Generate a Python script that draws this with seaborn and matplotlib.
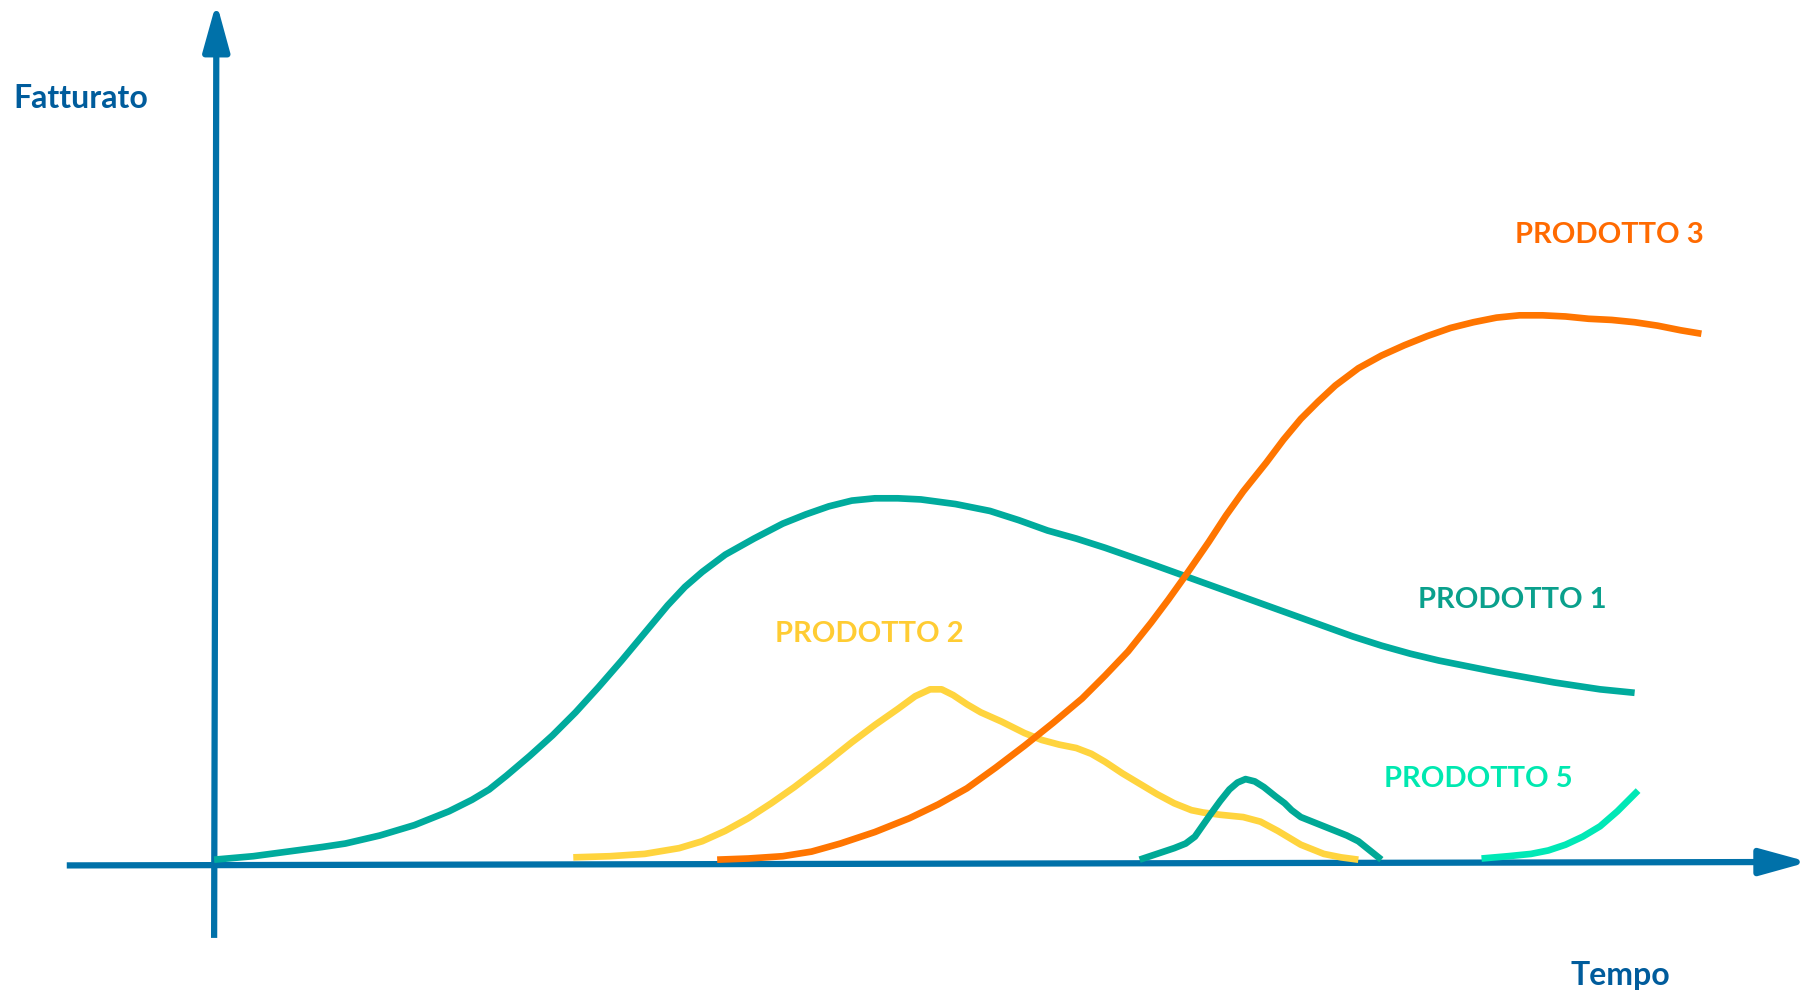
import matplotlib
matplotlib.use("Agg")
import matplotlib.pyplot as plt
import seaborn as sns
import pandas as pd

# ---- data (tempo, fatturato) ----
p1_x = [0, 34, 64, 94, 114, 144, 174, 204, 224, 239, 254, 274, 294, 314, 334, 354, 374, 394, 409, 424,
        444, 469, 494, 514, 534, 554, 574, 594, 614, 644, 674, 699, 724, 749, 774, 814, 864, 914, 964,
        989, 1014, 1039, 1064, 1114, 1164, 1204, 1234]
p1_y = [3, 6, 10, 14, 17, 24, 33, 45, 55, 64, 76, 93, 111, 131, 153, 176, 200, 224, 240, 253,
        268, 282, 295, 303, 310, 315, 317, 317, 316, 312, 306, 298, 289, 282, 274, 260, 242, 224, 206,
        197, 189, 182, 176, 166, 157, 151, 148]

p2_x = [312, 344, 374, 404, 424, 444, 464, 484, 504, 529, 554, 574, 594, 609, 622, 632, 642, 654, 666, 684,
        704, 719, 734, 749, 762, 774, 789, 804, 819, 834, 849, 859, 874, 894, 909, 924, 944, 964, 979, 994]
p2_y = [5, 6, 8, 13, 19, 28, 39, 52, 66, 85, 105, 120, 134, 145, 151, 151, 146, 138, 131, 123,
        113, 107, 103, 100, 95, 88, 78, 69, 60, 52, 46, 44, 42, 40, 36, 28, 16, 8, 5, 3]

p3_x = [437, 464, 494, 519, 544, 574, 604, 629, 654, 679, 704, 729, 754, 774, 794, 814, 829, 844, 864, 879,
        894, 914, 929, 944, 959, 974, 994, 1014, 1034, 1054, 1074, 1094, 1114, 1134, 1154, 1174, 1194,
        1214, 1234, 1254, 1274, 1292]
p3_y = [3, 4, 6, 10, 17, 27, 39, 51, 65, 83, 102, 122, 143, 163, 184, 209, 229, 250, 279, 302,
        323, 348, 368, 386, 401, 415, 430, 441, 450, 458, 465, 470, 474, 476, 476, 475, 473,
        472, 470, 467, 463, 460]

p4_x = [804, 819, 834, 844, 852, 859, 866, 874, 882, 889, 896, 904, 912, 922, 930, 936, 944, 954, 969, 984, 994, 1004, 1014]
p4_y = [3, 8, 13, 17, 23, 33, 43, 54, 64, 70, 73, 71, 66, 58, 52, 46, 40, 36, 30, 24, 19, 11, 3]

p5_x = [1101, 1124, 1144, 1159, 1174, 1189, 1204, 1219, 1237]
p5_y = [4, 6, 8, 11, 16, 23, 32, 45, 63]

labels = ["PRODOTTO 1", "PRODOTTO 2", "PRODOTTO 3", "PRODOTTO 5"]
label_x = [1128, 569, 1212, 1098]
label_y = [229, 199, 546, 73]
label_colors = ["#0AA08C", "#FFCC33", "#FF6A00", "#00E8B0"]

y_title = "Fatturato"
x_title = "Tempo"

# ---- figure ----
sns.set_theme(style="white")
plt.rcParams["font.family"] = ["Lato", "DejaVu Sans"]

fig = plt.figure(figsize=(18.05, 9.92), dpi=100)
ax = fig.add_axes([0, 0, 1, 1])
ax.set_xlim(-186, 1382)
ax.set_ylim(-112, 750)
ax.axis("off")

axis_blue = "#0071A9"
text_blue = "#005C9C"

arrow_kw = dict(arrowstyle="-|>,head_length=2.9,head_width=0.8",
                lw=4.5, color=axis_blue, shrinkA=0, shrinkB=0,
                mutation_scale=10, capstyle="butt", joinstyle="round")
ax.annotate("", xy=(1385, 1), xytext=(-128, -2), arrowprops=arrow_kw, annotation_clip=False)
ax.annotate("", xy=(2, 748), xytext=(0, -65), arrowprops=arrow_kw, annotation_clip=False)

series = [
    (p1_x, p1_y, "#00AB9D"),
    (p2_x, p2_y, "#FFD43E"),
    (p3_x, p3_y, "#FF7500"),
    (p4_x, p4_y, "#00A996"),
    (p5_x, p5_y, "#00E8B6"),
]
for xs, ys, c in series:
    df = pd.DataFrame({"tempo": xs, "fatturato": ys})
    sns.lineplot(data=df, x="tempo", y="fatturato", ax=ax, sort=False,
                 color=c, lw=4.8, solid_capstyle="butt", solid_joinstyle="round",
                 zorder=3)
ax.set_xlabel("")
ax.set_ylabel("")

for t, x, y, c in zip(labels, label_x, label_y, label_colors):
    ax.text(x, y, t, color=c, fontsize=21, fontweight="bold", ha="center", va="center")

ax.text(-174, 664, y_title, color=text_blue, fontsize=23, fontweight="bold", ha="left", va="center")
ax.text(1222, -98, x_title, color=text_blue, fontsize=23, fontweight="bold", ha="center", va="center")

fig.savefig("out.png", dpi=100)
